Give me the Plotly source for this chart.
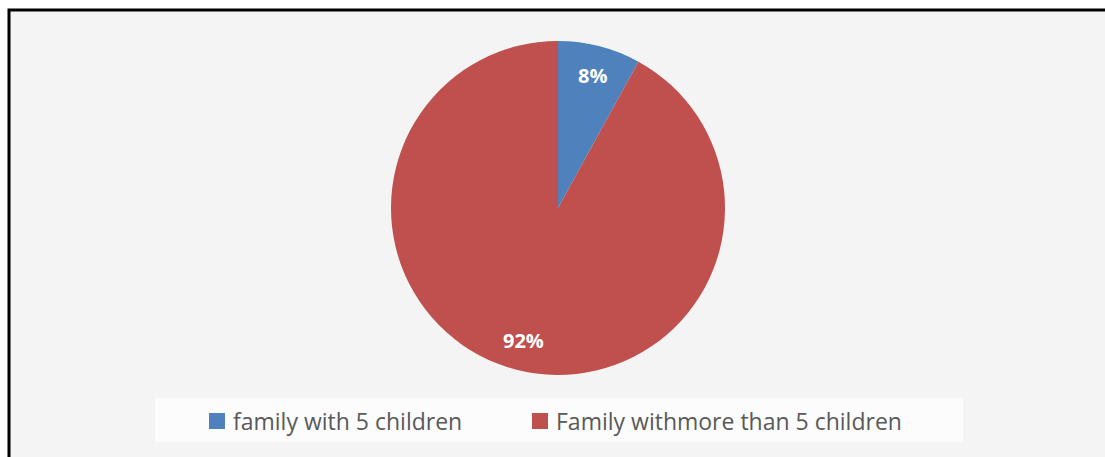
import math
import plotly.graph_objects as go

# Share of families by number of children
categories = ["family with 5 children", "Family withmore than 5 children"]
shares = [8, 92]
colors = ["#4F81BD", "#C0504D"]

W, H = 1105, 457
cx_px, cy_px = 558, 208      # pie centre in pixels
radius_px = 167              # pie radius in pixels


def px_x(v):
    return v / W


def px_y(v):
    return 1 - v / H


fig = go.Figure()
fig.add_trace(go.Pie(
    labels=categories,
    values=shares,
    sort=False,
    direction="clockwise",
    rotation=0,
    marker=dict(colors=colors, line=dict(width=0)),
    textinfo="none",
    hoverinfo="label+percent",
    showlegend=False,
    domain=dict(x=[px_x(cx_px - 200), px_x(cx_px + 200)],
                y=[px_y(cy_px + radius_px), px_y(cy_px - radius_px)]),
))

# Percentage labels placed along each slice's mid-angle
total = sum(shares)
annotations = []
start = 0.0
for v in shares:
    mid = (start + v / 2) / total * 2 * math.pi
    r = 0.82 * radius_px
    lx = cx_px + r * math.sin(mid)
    ly = cy_px - r * math.cos(mid)
    annotations.append(dict(
        x=px_x(lx), y=px_y(ly), xref="paper", yref="paper",
        text=f"<b>{round(v / total * 100)}%</b>", showarrow=False,
        font=dict(family="Open Sans", size=20, color="white"),
        xanchor="center", yanchor="middle",
    ))
    start += v

shapes = [
    # chart area with black frame
    dict(type="rect", xref="paper", yref="paper",
         x0=px_x(9), x1=px_x(1110), y0=px_y(462), y1=px_y(10),
         fillcolor="#F4F4F4", line=dict(color="black", width=3), layer="below"),
    # legend box
    dict(type="rect", xref="paper", yref="paper",
         x0=px_x(155), x1=px_x(963), y0=px_y(442), y1=px_y(398),
         fillcolor="#FCFCFC", line=dict(width=0), layer="below"),
]

# Legend row: colour key square followed by the category name
legend_key_x = [209, 532]    # left edge of each key square, px
legend_y = 421               # vertical centre of the legend row, px
key_size = 16
for cat, col, kx in zip(categories, colors, legend_key_x):
    shapes.append(dict(
        type="rect", xref="paper", yref="paper",
        x0=px_x(kx), x1=px_x(kx + key_size),
        y0=px_y(legend_y + key_size / 2), y1=px_y(legend_y - key_size / 2),
        fillcolor=col, line=dict(width=0),
    ))
    annotations.append(dict(
        x=px_x(kx + key_size + 6), y=px_y(legend_y), xref="paper", yref="paper",
        text=cat, showarrow=False, xanchor="left", yanchor="middle",
        font=dict(family="Open Sans", size=23, color="#595959"),
    ))

fig.update_layout(
    width=W, height=H,
    margin=dict(l=0, r=0, t=0, b=0),
    paper_bgcolor="white",
    plot_bgcolor="rgba(0,0,0,0)",
    shapes=shapes,
    annotations=annotations,
    showlegend=False,
)

fig.write_html("out.html")
